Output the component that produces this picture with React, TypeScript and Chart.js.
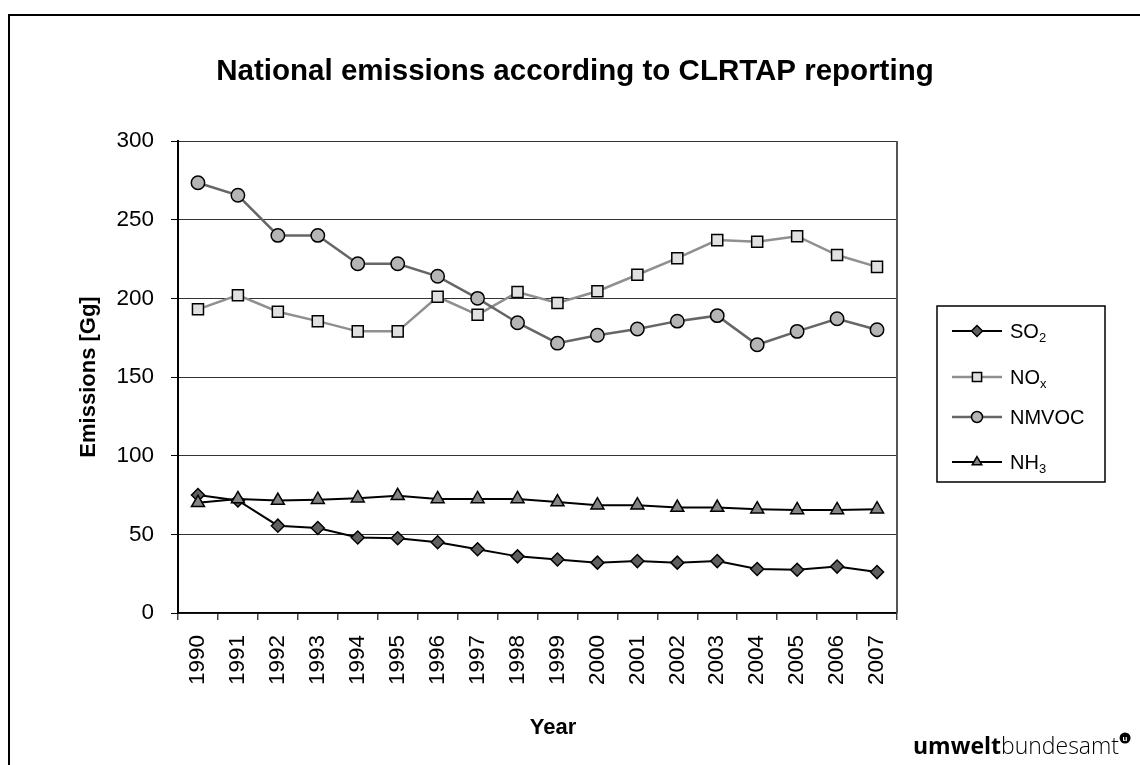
import React, { useEffect, useRef } from "react";
import { Chart, registerables } from "chart.js";

Chart.register(...registerables);

const FONT = '"Liberation Sans", Arial, Helvetica, sans-serif';

const years = ["1990", "1991", "1992", "1993", "1994", "1995", "1996", "1997", "1998", "1999", "2000", "2001", "2002", "2003", "2004", "2005", "2006", "2007"];
const so2 = [75, 71.5, 55.5, 54, 48, 47.5, 45, 40.5, 36, 34, 32, 33, 32, 33, 28, 27.5, 29.5, 26];
const nox = [193, 202, 191.5, 185.5, 179, 179, 201, 189.5, 204, 197, 204.5, 215, 225.5, 237, 236, 239.5, 227.5, 220];
const nmvoc = [273.5, 265.5, 240, 240, 222, 222, 214, 200, 184.5, 171.5, 176.5, 180.5, 185.5, 189, 170.5, 179, 187, 180];
const nh3 = [70, 72.5, 71.5, 72, 73, 74.5, 72.5, 72.5, 72.5, 70.5, 68.5, 68.5, 67, 67, 66, 65.5, 65.5, 66];

const seriesNames = ["SO", "NO", "NMVOC", "NH"];
const seriesSubs = ["2", "x", "", "3"];
const yTicks = [0, 50, 100, 150, 200, 250, 300];

const titleText = "National emissions according to CLRTAP reporting";
const yTitle = "Emissions [Gg]";
const xTitle = "Year";

function drawMarker(ctx: CanvasRenderingContext2D, style: string, x: number, y: number, r: number, fill: string, stroke: string, lw: number) {
  ctx.save();
  ctx.beginPath();
  if (style === "rectRot") {
    ctx.moveTo(x, y - r);
    ctx.lineTo(x + r, y);
    ctx.lineTo(x, y + r);
    ctx.lineTo(x - r, y);
    ctx.closePath();
  } else if (style === "rect") {
    const s = r * Math.SQRT1_2;
    ctx.rect(x - s, y - s, 2 * s, 2 * s);
  } else if (style === "triangle") {
    for (let i = 0; i < 3; i++) {
      const a = (i * 2 * Math.PI) / 3;
      const px = x + Math.sin(a) * r;
      const py = y - Math.cos(a) * r;
      if (i === 0) ctx.moveTo(px, py);
      else ctx.lineTo(px, py);
    }
    ctx.closePath();
  } else {
    ctx.arc(x, y, r, 0, Math.PI * 2);
  }
  ctx.fillStyle = fill;
  ctx.fill();
  ctx.lineWidth = lw;
  ctx.strokeStyle = stroke;
  ctx.stroke();
  ctx.restore();
}

const decorPlugin = {
  id: "decor",
  afterDraw(chart: any) {
    const ctx: CanvasRenderingContext2D = chart.ctx;
    const area = chart.chartArea;
    ctx.save();
    // right border of plot area
    ctx.strokeStyle = "#555";
    ctx.lineWidth = 2;
    ctx.beginPath();
    ctx.moveTo(area.right, area.top);
    ctx.lineTo(area.right, area.bottom);
    ctx.stroke();

    // title
    ctx.fillStyle = "#000";
    ctx.font = `bold 29.5px ${FONT}`;
    ctx.textAlign = "center";
    ctx.textBaseline = "alphabetic";
    ctx.fillText(titleText, 575, 80);

    // x title
    ctx.font = `bold 22px ${FONT}`;
    ctx.fillText(xTitle, 553, 734);

    // y title
    ctx.save();
    ctx.translate(95, 377);
    ctx.rotate(-Math.PI / 2);
    ctx.font = `bold 22px ${FONT}`;
    ctx.fillText(yTitle, 0, 0);
    ctx.restore();

    // legend
    const lx = 937, ly = 306, lw = 168, lh = 176;
    ctx.strokeStyle = "#000";
    ctx.lineWidth = 1.5;
    ctx.strokeRect(lx, ly, lw, lh);
    const rowsY = [331, 377, 417, 462];
    chart.data.datasets.forEach((ds: any, i: number) => {
      const y = rowsY[i];
      ctx.strokeStyle = ds.borderColor;
      ctx.lineWidth = ds.borderWidth;
      ctx.beginPath();
      ctx.moveTo(952, y);
      ctx.lineTo(1002, y);
      ctx.stroke();
      drawMarker(ctx, ds.pointStyle, 977, y, ds.pointStyle === "rect" ? 6.5 : 5.5, ds.pointBackgroundColor, "#000", 1.5);
      ctx.fillStyle = "#000";
      ctx.textAlign = "left";
      ctx.font = `20px ${FONT}`;
      ctx.fillText(seriesNames[i], 1010, y + 7);
      if (seriesSubs[i]) {
        const w = ctx.measureText(seriesNames[i]).width;
        ctx.font = `13px ${FONT}`;
        ctx.fillText(seriesSubs[i], 1010 + w, y + 11);
      }
    });

    // logo
    ctx.textAlign = "left";
    ctx.fillStyle = "#000";
    ctx.font = `bold 23px "Open Sans", ${FONT}`;
    const x0 = 913;
    ctx.fillText("umwelt", x0, 754);
    const w1 = ctx.measureText("umwelt").width;
    ctx.font = `300 23px "Open Sans", ${FONT}`;
    ctx.fillText("bundesamt", x0 + w1, 754);
    const w2 = ctx.measureText("bundesamt").width;
    const cx = x0 + w1 + w2 + 6;
    ctx.beginPath();
    ctx.arc(cx, 738, 5.5, 0, Math.PI * 2);
    ctx.fill();
    ctx.fillStyle = "#fff";
    ctx.font = `bold 8px ${FONT}`;
    ctx.textAlign = "center";
    ctx.fillText("u", cx, 740.5);
    ctx.restore();
  },
};

export default function App() {
  const ref = useRef<HTMLCanvasElement>(null);
  useEffect(() => {
    const chart = new Chart(ref.current as HTMLCanvasElement, {
      type: "line",
      data: {
        labels: years,
        datasets: [
          {
            label: "SO₂",
            data: so2,
            borderColor: "#000",
            borderWidth: 2,
            pointStyle: "rectRot",
            pointRadius: 6.5,
            pointBackgroundColor: "#5f5f5f",
            pointBorderColor: "#000",
            pointBorderWidth: 1.5,
            order: 4,
          },
          {
            label: "NOₓ",
            data: nox,
            borderColor: "#8f8f8f",
            borderWidth: 2.5,
            pointStyle: "rect",
            pointRadius: 7.8,
            pointBackgroundColor: "#e0e0e0",
            pointBorderColor: "#000",
            pointBorderWidth: 1.5,
            order: 3,
          },
          {
            label: "NMVOC",
            data: nmvoc,
            borderColor: "#666",
            borderWidth: 2.5,
            pointStyle: "circle",
            pointRadius: 6.7,
            pointBackgroundColor: "#b5b5b5",
            pointBorderColor: "#000",
            pointBorderWidth: 1.5,
            order: 2,
          },
          {
            label: "NH₃",
            data: nh3,
            borderColor: "#000",
            borderWidth: 2,
            pointStyle: "triangle",
            pointRadius: 7.5,
            pointBackgroundColor: "#858585",
            pointBorderColor: "#000",
            pointBorderWidth: 1.5,
            order: 1,
          },
        ] as any,
      },
      options: {
        responsive: false,
        animation: false,
        devicePixelRatio: 1,
        layout: { padding: { top: 141, left: 0, right: 243, bottom: 0 } },
        plugins: { legend: { display: false }, title: { display: false }, tooltip: { enabled: false } },
        elements: { line: { tension: 0 } },
        scales: {
          x: {
            type: "category",
            offset: true,
            grid: { display: true, drawOnChartArea: false, offset: true, tickLength: 7, color: "#444", lineWidth: 1.5 },
            border: { color: "#000", width: 1.5 },
            ticks: { color: "#000", font: { size: 22.5, family: FONT }, maxRotation: 90, minRotation: 90, padding: 15, autoSkip: false },
            afterFit(scale: any) {
              scale.height = 152;
            },
          },
          y: {
            min: 0,
            max: 300,
            afterBuildTicks(scale: any) {
              scale.ticks = yTicks.map((v) => ({ value: v }));
            },
            grid: { color: "#333", lineWidth: 1, tickLength: 7, tickColor: "#000" },
            border: { color: "#000", width: 2 },
            ticks: { color: "#000", font: { size: 22.5, family: FONT }, padding: 17 },
            afterFit(scale: any) {
              scale.width = 178;
            },
          },
        },
      } as any,
      plugins: [decorPlugin],
    });
    return () => chart.destroy();
  }, []);
  return (
    <div style={{ position: "absolute", left: 0, top: 0, width: 1140, height: 765, overflow: "hidden", background: "#fff" }}>
      <div style={{ position: "absolute", left: 8, top: 14, width: 1200, height: 800, border: "2px solid #000", boxSizing: "border-box" }} />
      <canvas ref={ref} width={1140} height={765} style={{ position: "absolute", left: 0, top: 0, width: 1140, height: 765 }} />
    </div>
  );
}
